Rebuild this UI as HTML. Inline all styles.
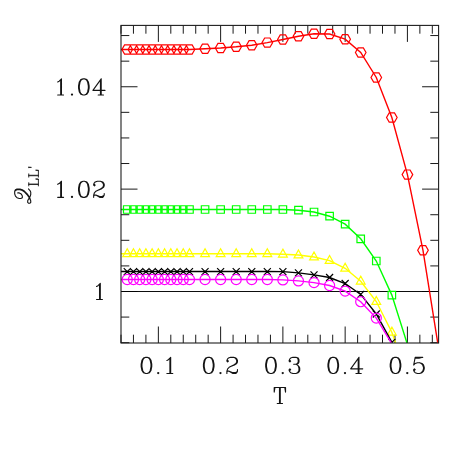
<!DOCTYPE html>
<html><head><meta charset="utf-8"><title>Q_LL' vs T</title>
<style>html,body{margin:0;padding:0;background:#fff;font-family:"Liberation Serif",serif}svg{display:block}</style>
</head><body>
<svg width="463" height="463" viewBox="0 0 463 463">
<rect width="463" height="463" fill="#fff"/>
<defs><clipPath id="c"><rect x="121.0" y="25.4" width="317.6" height="317.6"/></clipPath></defs>
<path d="M121.00 343.0v-8.3M121.00 25.4v8.3M133.45 343.0v-8.3M133.45 25.4v8.3M145.91 343.0v-8.3M145.91 25.4v8.3M158.36 343.0v-16.5M158.36 25.4v16.5M170.81 343.0v-8.3M170.81 25.4v8.3M183.26 343.0v-8.3M183.26 25.4v8.3M195.72 343.0v-8.3M195.72 25.4v8.3M208.17 343.0v-8.3M208.17 25.4v8.3M220.62 343.0v-16.5M220.62 25.4v16.5M233.08 343.0v-8.3M233.08 25.4v8.3M245.53 343.0v-8.3M245.53 25.4v8.3M257.98 343.0v-8.3M257.98 25.4v8.3M270.44 343.0v-8.3M270.44 25.4v8.3M282.89 343.0v-16.5M282.89 25.4v16.5M295.34 343.0v-8.3M295.34 25.4v8.3M307.80 343.0v-8.3M307.80 25.4v8.3M320.25 343.0v-8.3M320.25 25.4v8.3M332.70 343.0v-8.3M332.70 25.4v8.3M345.15 343.0v-16.5M345.15 25.4v16.5M357.61 343.0v-8.3M357.61 25.4v8.3M370.06 343.0v-8.3M370.06 25.4v8.3M382.51 343.0v-8.3M382.51 25.4v8.3M394.97 343.0v-8.3M394.97 25.4v8.3M407.42 343.0v-16.5M407.42 25.4v16.5M419.87 343.0v-8.3M419.87 25.4v8.3M432.32 343.0v-8.3M432.32 25.4v8.3M121.0 342.69h8.3M438.6 342.69h-8.3M121.0 317.09h8.3M438.6 317.09h-8.3M121.0 291.50h16.5M438.6 291.50h-16.5M121.0 265.91h8.3M438.6 265.91h-8.3M121.0 240.31h8.3M438.6 240.31h-8.3M121.0 214.72h8.3M438.6 214.72h-8.3M121.0 189.12h16.5M438.6 189.12h-16.5M121.0 163.53h8.3M438.6 163.53h-8.3M121.0 137.94h8.3M438.6 137.94h-8.3M121.0 112.34h8.3M438.6 112.34h-8.3M121.0 86.75h16.5M438.6 86.75h-16.5M121.0 61.16h8.3M438.6 61.16h-8.3M121.0 35.56h8.3M438.6 35.56h-8.3" stroke="#1a1a1a" stroke-width="1.0" fill="none"/>
<path d="M121.0 291.5H438.6" stroke="#000" stroke-width="0.95" fill="none"/>
<g clip-path="url(#c)" stroke="#ff0000" stroke-width="1.2" fill="none" stroke-linejoin="miter">
<path d="M121.0 49.55L127.23 49.55L133.45 49.55L139.68 49.55L145.91 49.55L152.13 49.55L158.36 49.55L164.59 49.55L170.81 49.55L177.04 49.55L183.26 49.55L189.49 49.55L205.06 48.80L220.62 48.00L236.19 46.80L251.76 45.20L267.32 42.60L282.89 39.50L298.46 36.20L314.02 33.70L329.59 34.00L345.15 39.20L360.72 52.50L376.29 77.50L391.85 117.50L407.42 174.60L422.99 250.30L438.55 348.00" stroke-width="1.4"/>
<path d="M132.53 49.55L129.88 54.14L124.58 54.14L121.93 49.55L124.58 44.96L129.88 44.96ZM138.75 49.55L136.10 54.14L130.80 54.14L128.15 49.55L130.80 44.96L136.10 44.96ZM144.98 49.55L142.33 54.14L137.03 54.14L134.38 49.55L137.03 44.96L142.33 44.96ZM151.21 49.55L148.56 54.14L143.26 54.14L140.61 49.55L143.26 44.96L148.56 44.96ZM157.43 49.55L154.78 54.14L149.48 54.14L146.83 49.55L149.48 44.96L154.78 44.96ZM163.66 49.55L161.01 54.14L155.71 54.14L153.06 49.55L155.71 44.96L161.01 44.96ZM169.89 49.55L167.24 54.14L161.94 54.14L159.29 49.55L161.94 44.96L167.24 44.96ZM176.11 49.55L173.46 54.14L168.16 54.14L165.51 49.55L168.16 44.96L173.46 44.96ZM182.34 49.55L179.69 54.14L174.39 54.14L171.74 49.55L174.39 44.96L179.69 44.96ZM188.56 49.55L185.91 54.14L180.61 54.14L177.96 49.55L180.61 44.96L185.91 44.96ZM194.79 49.55L192.14 54.14L186.84 54.14L184.19 49.55L186.84 44.96L192.14 44.96ZM210.36 48.80L207.71 53.39L202.41 53.39L199.76 48.80L202.41 44.21L207.71 44.21ZM225.92 48.00L223.27 52.59L217.97 52.59L215.32 48.00L217.97 43.41L223.27 43.41ZM241.49 46.80L238.84 51.39L233.54 51.39L230.89 46.80L233.54 42.21L238.84 42.21ZM257.06 45.20L254.41 49.79L249.11 49.79L246.46 45.20L249.11 40.61L254.41 40.61ZM272.62 42.60L269.97 47.19L264.67 47.19L262.02 42.60L264.67 38.01L269.97 38.01ZM288.19 39.50L285.54 44.09L280.24 44.09L277.59 39.50L280.24 34.91L285.54 34.91ZM303.76 36.20L301.11 40.79L295.81 40.79L293.16 36.20L295.81 31.61L301.11 31.61ZM319.32 33.70L316.67 38.29L311.37 38.29L308.72 33.70L311.37 29.11L316.67 29.11ZM334.89 34.00L332.24 38.59L326.94 38.59L324.29 34.00L326.94 29.41L332.24 29.41ZM350.45 39.20L347.80 43.79L342.50 43.79L339.85 39.20L342.50 34.61L347.80 34.61ZM366.02 52.50L363.37 57.09L358.07 57.09L355.42 52.50L358.07 47.91L363.37 47.91ZM381.59 77.50L378.94 82.09L373.64 82.09L370.99 77.50L373.64 72.91L378.94 72.91ZM397.15 117.50L394.50 122.09L389.20 122.09L386.55 117.50L389.20 112.91L394.50 112.91ZM412.72 174.60L410.07 179.19L404.77 179.19L402.12 174.60L404.77 170.01L410.07 170.01ZM428.29 250.30L425.64 254.89L420.34 254.89L417.69 250.30L420.34 245.71L425.64 245.71Z"/>
</g>
<g clip-path="url(#c)" stroke="#00ff00" stroke-width="1.2" fill="none" stroke-linejoin="miter">
<path d="M121.0 209.50L127.23 209.50L133.45 209.50L139.68 209.50L145.91 209.50L152.13 209.50L158.36 209.50L164.59 209.50L170.81 209.50L177.04 209.50L183.26 209.50L189.49 209.50L205.06 209.50L220.62 209.50L236.19 209.50L251.76 209.50L267.32 209.50L282.89 209.50L298.46 210.20L314.02 212.00L329.59 216.20L345.15 224.20L360.72 238.80L376.29 261.00L391.85 295.10L407.42 344.50L422.99 420.00L438.55 520.00" stroke-width="1.4"/>
<path d="M123.48 205.75h7.5v7.5h-7.5ZM129.70 205.75h7.5v7.5h-7.5ZM135.93 205.75h7.5v7.5h-7.5ZM142.16 205.75h7.5v7.5h-7.5ZM148.38 205.75h7.5v7.5h-7.5ZM154.61 205.75h7.5v7.5h-7.5ZM160.84 205.75h7.5v7.5h-7.5ZM167.06 205.75h7.5v7.5h-7.5ZM173.29 205.75h7.5v7.5h-7.5ZM179.51 205.75h7.5v7.5h-7.5ZM185.74 205.75h7.5v7.5h-7.5ZM201.31 205.75h7.5v7.5h-7.5ZM216.87 205.75h7.5v7.5h-7.5ZM232.44 205.75h7.5v7.5h-7.5ZM248.01 205.75h7.5v7.5h-7.5ZM263.57 205.75h7.5v7.5h-7.5ZM279.14 205.75h7.5v7.5h-7.5ZM294.71 206.45h7.5v7.5h-7.5ZM310.27 208.25h7.5v7.5h-7.5ZM325.84 212.45h7.5v7.5h-7.5ZM341.40 220.45h7.5v7.5h-7.5ZM356.97 235.05h7.5v7.5h-7.5ZM372.54 257.25h7.5v7.5h-7.5ZM388.10 291.35h7.5v7.5h-7.5Z"/>
</g>
<g clip-path="url(#c)" stroke="#ffff00" stroke-width="1.2" fill="none" stroke-linejoin="miter">
<path d="M121.0 253.80L127.23 253.80L133.45 253.80L139.68 253.80L145.91 253.80L152.13 253.80L158.36 253.80L164.59 253.80L170.81 253.80L177.04 253.80L183.26 253.80L189.49 253.80L205.06 253.80L220.62 253.80L236.19 253.80L251.76 253.80L267.32 253.80L282.89 254.20L298.46 255.00L314.02 257.00L329.59 260.60L345.15 268.30L360.72 281.20L376.29 301.55L391.85 332.20L407.42 377.00L422.99 440.00L438.55 520.00" stroke-width="1.4"/>
<path d="M127.23 248.75L131.63 256.65L122.83 256.65ZM133.45 248.75L137.85 256.65L129.05 256.65ZM139.68 248.75L144.08 256.65L135.28 256.65ZM145.91 248.75L150.31 256.65L141.51 256.65ZM152.13 248.75L156.53 256.65L147.73 256.65ZM158.36 248.75L162.76 256.65L153.96 256.65ZM164.59 248.75L168.99 256.65L160.19 256.65ZM170.81 248.75L175.21 256.65L166.41 256.65ZM177.04 248.75L181.44 256.65L172.64 256.65ZM183.26 248.75L187.66 256.65L178.86 256.65ZM189.49 248.75L193.89 256.65L185.09 256.65ZM205.06 248.75L209.46 256.65L200.66 256.65ZM220.62 248.75L225.02 256.65L216.22 256.65ZM236.19 248.75L240.59 256.65L231.79 256.65ZM251.76 248.75L256.16 256.65L247.36 256.65ZM267.32 248.75L271.72 256.65L262.92 256.65ZM282.89 249.15L287.29 257.05L278.49 257.05ZM298.46 249.95L302.86 257.85L294.06 257.85ZM314.02 251.95L318.42 259.85L309.62 259.85ZM329.59 255.55L333.99 263.45L325.19 263.45ZM345.15 263.25L349.55 271.15L340.75 271.15ZM360.72 276.15L365.12 284.05L356.32 284.05ZM376.29 296.50L380.69 304.40L371.89 304.40ZM391.85 327.15L396.25 335.05L387.45 335.05Z"/>
</g>
<g clip-path="url(#c)" stroke="#000000" stroke-width="1.2" fill="none" stroke-linejoin="miter">
<path d="M121.0 271.55L127.23 271.55L133.45 271.55L139.68 271.55L145.91 271.55L152.13 271.55L158.36 271.55L164.59 271.55L170.81 271.55L177.04 271.55L183.26 271.55L189.49 271.55L205.06 271.55L220.62 271.55L236.19 271.55L251.76 271.55L267.32 271.55L282.89 271.60L298.46 272.90L314.02 274.90L329.59 277.50L345.15 283.50L360.72 294.40L376.29 314.00L391.85 342.40L407.42 384.00L422.99 440.00L438.55 520.00" stroke-width="1.4"/>
<path d="M123.73 268.05l7.0 7.0M123.73 275.05l7.0 -7.0M129.95 268.05l7.0 7.0M129.95 275.05l7.0 -7.0M136.18 268.05l7.0 7.0M136.18 275.05l7.0 -7.0M142.41 268.05l7.0 7.0M142.41 275.05l7.0 -7.0M148.63 268.05l7.0 7.0M148.63 275.05l7.0 -7.0M154.86 268.05l7.0 7.0M154.86 275.05l7.0 -7.0M161.09 268.05l7.0 7.0M161.09 275.05l7.0 -7.0M167.31 268.05l7.0 7.0M167.31 275.05l7.0 -7.0M173.54 268.05l7.0 7.0M173.54 275.05l7.0 -7.0M179.76 268.05l7.0 7.0M179.76 275.05l7.0 -7.0M185.99 268.05l7.0 7.0M185.99 275.05l7.0 -7.0M201.56 268.05l7.0 7.0M201.56 275.05l7.0 -7.0M217.12 268.05l7.0 7.0M217.12 275.05l7.0 -7.0M232.69 268.05l7.0 7.0M232.69 275.05l7.0 -7.0M248.26 268.05l7.0 7.0M248.26 275.05l7.0 -7.0M263.82 268.05l7.0 7.0M263.82 275.05l7.0 -7.0M279.39 268.10l7.0 7.0M279.39 275.10l7.0 -7.0M294.96 269.40l7.0 7.0M294.96 276.40l7.0 -7.0M310.52 271.40l7.0 7.0M310.52 278.40l7.0 -7.0M326.09 274.00l7.0 7.0M326.09 281.00l7.0 -7.0M341.65 280.00l7.0 7.0M341.65 287.00l7.0 -7.0M357.22 290.90l7.0 7.0M357.22 297.90l7.0 -7.0M372.79 310.50l7.0 7.0M372.79 317.50l7.0 -7.0M388.35 338.90l7.0 7.0M388.35 345.90l7.0 -7.0"/>
</g>
<g clip-path="url(#c)" stroke="#ff00ff" stroke-width="1.2" fill="none" stroke-linejoin="miter">
<path d="M121.0 279.50L127.23 279.50L133.45 279.50L139.68 279.50L145.91 279.50L152.13 279.50L158.36 279.50L164.59 279.50L170.81 279.50L177.04 279.50L183.26 279.50L189.49 279.50L205.06 279.50L220.62 279.50L236.19 279.50L251.76 279.50L267.32 279.50L282.89 279.90L298.46 280.90L314.02 282.60L329.59 285.50L345.15 291.10L360.72 301.70L376.29 318.10L391.85 343.80L407.42 384.00L422.99 440.00L438.55 520.00" stroke-width="1.4"/>
<path d="M122.18 279.50a5.05 5.05 0 1 0 10.1 0a5.05 5.05 0 1 0 -10.1 0ZM128.40 279.50a5.05 5.05 0 1 0 10.1 0a5.05 5.05 0 1 0 -10.1 0ZM134.63 279.50a5.05 5.05 0 1 0 10.1 0a5.05 5.05 0 1 0 -10.1 0ZM140.86 279.50a5.05 5.05 0 1 0 10.1 0a5.05 5.05 0 1 0 -10.1 0ZM147.08 279.50a5.05 5.05 0 1 0 10.1 0a5.05 5.05 0 1 0 -10.1 0ZM153.31 279.50a5.05 5.05 0 1 0 10.1 0a5.05 5.05 0 1 0 -10.1 0ZM159.54 279.50a5.05 5.05 0 1 0 10.1 0a5.05 5.05 0 1 0 -10.1 0ZM165.76 279.50a5.05 5.05 0 1 0 10.1 0a5.05 5.05 0 1 0 -10.1 0ZM171.99 279.50a5.05 5.05 0 1 0 10.1 0a5.05 5.05 0 1 0 -10.1 0ZM178.21 279.50a5.05 5.05 0 1 0 10.1 0a5.05 5.05 0 1 0 -10.1 0ZM184.44 279.50a5.05 5.05 0 1 0 10.1 0a5.05 5.05 0 1 0 -10.1 0ZM200.01 279.50a5.05 5.05 0 1 0 10.1 0a5.05 5.05 0 1 0 -10.1 0ZM215.57 279.50a5.05 5.05 0 1 0 10.1 0a5.05 5.05 0 1 0 -10.1 0ZM231.14 279.50a5.05 5.05 0 1 0 10.1 0a5.05 5.05 0 1 0 -10.1 0ZM246.71 279.50a5.05 5.05 0 1 0 10.1 0a5.05 5.05 0 1 0 -10.1 0ZM262.27 279.50a5.05 5.05 0 1 0 10.1 0a5.05 5.05 0 1 0 -10.1 0ZM277.84 279.90a5.05 5.05 0 1 0 10.1 0a5.05 5.05 0 1 0 -10.1 0ZM293.41 280.90a5.05 5.05 0 1 0 10.1 0a5.05 5.05 0 1 0 -10.1 0ZM308.97 282.60a5.05 5.05 0 1 0 10.1 0a5.05 5.05 0 1 0 -10.1 0ZM324.54 285.50a5.05 5.05 0 1 0 10.1 0a5.05 5.05 0 1 0 -10.1 0ZM340.10 291.10a5.05 5.05 0 1 0 10.1 0a5.05 5.05 0 1 0 -10.1 0ZM355.67 301.70a5.05 5.05 0 1 0 10.1 0a5.05 5.05 0 1 0 -10.1 0ZM371.24 318.10a5.05 5.05 0 1 0 10.1 0a5.05 5.05 0 1 0 -10.1 0Z"/>
</g>
<rect x="121.0" y="25.4" width="317.6" height="317.6" stroke="#1a1a1a" stroke-width="1.08" fill="none"/>
<path d="M145.70 357.32L143.44 358.09L141.93 360.39L141.17 364.23L141.17 366.54L141.93 370.38L143.44 372.68L145.70 373.45L147.21 373.45L149.48 372.68L150.99 370.38L151.74 366.54L151.74 364.23L150.99 360.39L149.48 358.09L147.21 357.32L145.70 357.32M145.70 357.32L144.19 358.09L143.44 358.86L142.68 360.39L141.93 364.23L141.93 366.54L142.68 370.38L143.44 371.91L144.19 372.68L145.70 373.45M147.21 373.45L148.72 372.68L149.48 371.91L150.23 370.38L150.99 366.54L150.99 364.23L150.23 360.39L149.48 358.86L148.72 358.09L147.21 357.32M166.89 360.39L168.40 359.63L170.66 357.32L170.66 373.45M169.91 358.09L169.91 373.45M166.89 373.45L172.78 373.45M207.97 357.32L205.70 358.09L204.19 360.39L203.44 364.23L203.44 366.54L204.19 370.38L205.70 372.68L207.97 373.45L209.48 373.45L211.74 372.68L213.25 370.38L214.01 366.54L214.01 364.23L213.25 360.39L211.74 358.09L209.48 357.32L207.97 357.32M207.97 357.32L206.46 358.09L205.70 358.86L204.95 360.39L204.19 364.23L204.19 366.54L204.95 370.38L205.70 371.91L206.46 372.68L207.97 373.45M209.48 373.45L210.99 372.68L211.74 371.91L212.50 370.38L213.25 366.54L213.25 364.23L212.50 360.39L211.74 358.86L210.99 358.09L209.48 357.32M227.64 360.39L228.40 361.16L227.64 361.93L226.89 361.16L226.89 360.39L227.64 358.86L228.40 358.09L230.66 357.32L233.68 357.32L235.95 358.09L236.70 358.86L237.46 360.39L237.46 361.93L236.70 363.47L234.44 365.00L230.66 366.54L229.15 367.31L227.64 368.84L226.89 371.15L226.89 373.45M233.68 357.32L235.19 358.09L235.95 358.86L236.70 360.39L236.70 361.93L235.95 363.47L233.68 365.00L230.66 366.54M226.89 371.91L227.64 371.15L229.15 371.15L232.93 372.68L235.19 372.68L236.70 371.91L237.46 371.15M229.15 371.15L232.93 373.45L235.95 373.45L236.70 372.68L237.46 371.15L237.46 369.61M270.23 357.32L267.97 358.09L266.46 360.39L265.70 364.23L265.70 366.54L266.46 370.38L267.97 372.68L270.23 373.45L271.74 373.45L274.01 372.68L275.52 370.38L276.27 366.54L276.27 364.23L275.52 360.39L274.01 358.09L271.74 357.32L270.23 357.32M270.23 357.32L268.72 358.09L267.97 358.86L267.21 360.39L266.46 364.23L266.46 366.54L267.21 370.38L267.97 371.91L268.72 372.68L270.23 373.45M271.74 373.45L273.25 372.68L274.01 371.91L274.76 370.38L275.52 366.54L275.52 364.23L274.76 360.39L274.01 358.86L273.25 358.09L271.74 357.32M289.91 360.39L290.66 361.16L289.91 361.93L289.15 361.16L289.15 360.39L289.91 358.86L290.66 358.09L292.93 357.32L295.95 357.32L298.21 358.09L298.97 359.63L298.97 361.93L298.21 363.47L295.95 364.23L293.68 364.23M295.95 357.32L297.46 358.09L298.21 359.63L298.21 361.93L297.46 363.47L295.95 364.23M295.95 364.23L297.46 365.00L298.97 366.54L299.72 368.07L299.72 370.38L298.97 371.91L298.21 372.68L295.95 373.45L292.93 373.45L290.66 372.68L289.91 371.91L289.15 370.38L289.15 369.61L289.91 368.84L290.66 369.61L289.91 370.38M298.21 365.77L298.97 368.07L298.97 370.38L298.21 371.91L297.46 372.68L295.95 373.45M332.50 357.32L330.23 358.09L328.72 360.39L327.97 364.23L327.97 366.54L328.72 370.38L330.23 372.68L332.50 373.45L334.01 373.45L336.27 372.68L337.78 370.38L338.54 366.54L338.54 364.23L337.78 360.39L336.27 358.09L334.01 357.32L332.50 357.32M332.50 357.32L330.99 358.09L330.23 358.86L329.48 360.39L328.72 364.23L328.72 366.54L329.48 370.38L330.23 371.91L330.99 372.68L332.50 373.45M334.01 373.45L335.52 372.68L336.27 371.91L337.03 370.38L337.78 366.54L337.78 364.23L337.03 360.39L336.27 358.86L335.52 358.09L334.01 357.32M358.21 358.86L358.21 373.45M358.97 357.32L358.97 373.45M358.97 357.32L350.66 368.84L362.74 368.84M355.95 373.45L361.23 373.45M394.76 357.32L392.50 358.09L390.99 360.39L390.23 364.23L390.23 366.54L390.99 370.38L392.50 372.68L394.76 373.45L396.27 373.45L398.54 372.68L400.05 370.38L400.80 366.54L400.80 364.23L400.05 360.39L398.54 358.09L396.27 357.32L394.76 357.32M394.76 357.32L393.25 358.09L392.50 358.86L391.74 360.39L390.99 364.23L390.99 366.54L391.74 370.38L392.50 371.91L393.25 372.68L394.76 373.45M396.27 373.45L397.78 372.68L398.54 371.91L399.29 370.38L400.05 366.54L400.05 364.23L399.29 360.39L398.54 358.86L397.78 358.09L396.27 357.32M415.19 357.32L413.68 365.00M413.68 365.00L415.19 363.47L417.46 362.70L419.72 362.70L421.99 363.47L423.50 365.00L424.25 367.31L424.25 368.84L423.50 371.15L421.99 372.68L419.72 373.45L417.46 373.45L415.19 372.68L414.44 371.91L413.68 370.38L413.68 369.61L414.44 368.84L415.19 369.61L414.44 370.38M419.72 362.70L421.23 363.47L422.74 365.00L423.50 367.31L423.50 368.84L422.74 371.15L421.23 372.68L419.72 373.45M415.19 357.32L422.74 357.32M415.19 358.09L418.97 358.09L422.74 357.32M57.68 81.94L59.19 81.18L61.46 78.87L61.46 95.00M60.70 79.64L60.70 95.00M57.68 95.00L63.57 95.00M83.09 78.87L80.82 79.64L79.31 81.94L78.56 85.78L78.56 88.09L79.31 91.93L80.82 94.23L83.09 95.00L84.59 95.00L86.86 94.23L88.37 91.93L89.12 88.09L89.12 85.78L88.37 81.94L86.86 79.64L84.59 78.87L83.09 78.87M83.09 78.87L81.58 79.64L80.82 80.41L80.06 81.94L79.31 85.78L79.31 88.09L80.06 91.93L80.82 93.46L81.58 94.23L83.09 95.00M84.59 95.00L86.11 94.23L86.86 93.46L87.62 91.93L88.37 88.09L88.37 85.78L87.62 81.94L86.86 80.41L86.11 79.64L84.59 78.87M100.45 80.41L100.45 95.00M101.20 78.87L101.20 95.00M101.20 78.87L92.90 90.39L104.98 90.39M98.19 95.00L103.47 95.00M57.68 184.32L59.19 183.55L61.46 181.25L61.46 197.37M60.70 182.01L60.70 197.37M57.68 197.37L63.57 197.37M83.09 181.25L80.82 182.01L79.31 184.32L78.56 188.16L78.56 190.46L79.31 194.30L80.82 196.61L83.09 197.37L84.59 197.37L86.86 196.61L88.37 194.30L89.12 190.46L89.12 188.16L88.37 184.32L86.86 182.01L84.59 181.25L83.09 181.25M83.09 181.25L81.58 182.01L80.82 182.78L80.06 184.32L79.31 188.16L79.31 190.46L80.06 194.30L80.82 195.84L81.58 196.61L83.09 197.37M84.59 197.37L86.11 196.61L86.86 195.84L87.62 194.30L88.37 190.46L88.37 188.16L87.62 184.32L86.86 182.78L86.11 182.01L84.59 181.25M94.41 184.32L95.16 185.09L94.41 185.85L93.66 185.09L93.66 184.32L94.41 182.78L95.16 182.01L97.43 181.25L100.45 181.25L102.72 182.01L103.47 182.78L104.22 184.32L104.22 185.85L103.47 187.39L101.20 188.93L97.43 190.46L95.92 191.23L94.41 192.77L93.66 195.07L93.66 197.37M100.45 181.25L101.96 182.01L102.72 182.78L103.47 184.32L103.47 185.85L102.72 187.39L100.45 188.93L97.43 190.46M93.66 195.84L94.41 195.07L95.92 195.07L99.69 196.61L101.96 196.61L103.47 195.84L104.22 195.07M95.92 195.07L99.69 197.37L102.72 197.37L103.47 196.61L104.22 195.07L104.22 193.53M96.53 286.39L98.04 285.63L100.30 283.32L100.30 299.45M99.55 284.09L99.55 299.45M96.53 299.45L102.42 299.45M279.50 387.50L279.50 403.50M280.25 387.50L280.25 403.50M274.97 387.50L274.21 392.07L274.21 387.50L285.54 387.50L285.54 392.07L284.79 387.50M277.24 403.50L282.52 403.50M17.74 192.92L19.27 192.92L20.80 193.71L21.57 194.50L22.34 196.08L22.34 197.66L20.80 198.45L19.27 198.45L16.98 197.66L15.45 196.08L14.68 193.71L14.68 191.33L15.45 189.75L16.98 188.96L20.04 188.96L22.34 189.75L24.63 191.33L27.69 194.50L29.22 196.87L29.98 198.45L30.75 200.83L30.75 202.41L29.98 203.20L28.45 203.20L27.69 202.41L27.69 200.83L28.45 199.25L29.98 196.87L30.75 194.50L30.75 192.13L29.98 190.54L28.45 188.96M14.68 191.33L15.45 190.54L16.98 189.75L20.04 189.75L22.34 190.54L24.63 192.13L26.93 194.50L29.22 197.66L30.75 200.83" stroke="#141414" stroke-width="1.12" fill="none" stroke-linecap="round" stroke-linejoin="round"/>
<path d="M28.74 184.53L38.40 184.53M28.74 184.07L38.40 184.07M28.74 185.91L28.74 182.69M38.40 185.91L38.40 179.01L35.64 179.01L38.40 179.47M28.74 175.73L38.40 175.73M28.74 175.27L38.40 175.27M28.74 177.11L28.74 173.89M38.40 177.11L38.40 170.21L35.64 170.21L38.40 170.67M28.6 167.1L31.0 167.4M28.6 167.6L31.0 167.4" stroke="#262626" stroke-width="0.95" fill="none" stroke-linecap="round" stroke-linejoin="round"/>
<circle cx="158.21" cy="373.03" r="1.15" fill="#141414"/>
<circle cx="220.47" cy="373.03" r="1.15" fill="#141414"/>
<circle cx="282.74" cy="373.03" r="1.15" fill="#141414"/>
<circle cx="345.00" cy="373.03" r="1.15" fill="#141414"/>
<circle cx="407.27" cy="373.03" r="1.15" fill="#141414"/>
<circle cx="72.00" cy="94.58" r="1.15" fill="#141414"/>
<circle cx="72.00" cy="196.96" r="1.15" fill="#141414"/>
</svg>
</body></html>
